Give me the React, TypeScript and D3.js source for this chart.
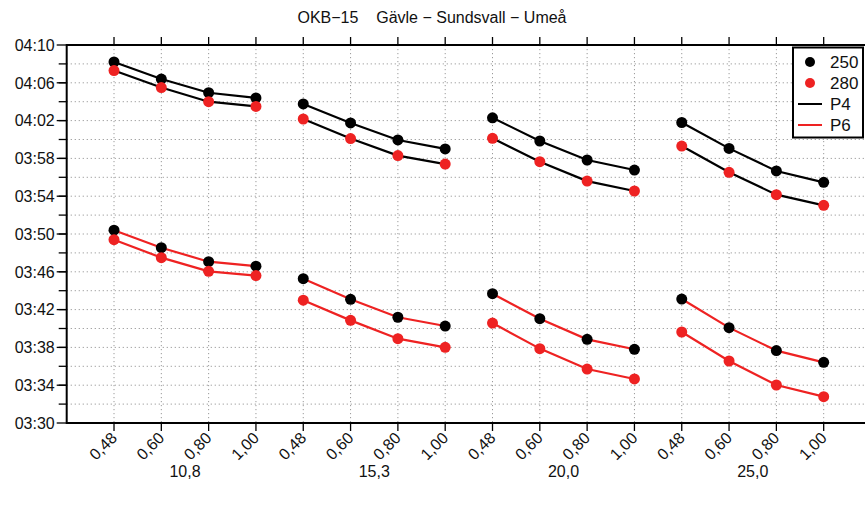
import React from "react";
import * as d3 from "d3";

const title = "OKB\u221215    G\u00e4vle \u2212 Sundsvall \u2212 Ume\u00e5";
const groups = ["10,8", "15,3", "20,0", "25,0"];
const subLabels = ["0,48", "0,60", "0,80", "1,00"];

// times in seconds (e.g. 248.2 = 04:08.2)
const p4_250 = [248.2, 246.4, 244.95, 244.4, 243.76, 241.75, 239.95, 239.0, 242.3, 239.84, 237.83, 236.77, 241.8, 239.06, 236.67, 235.47];
const p4_280 = [247.3, 245.5, 244.0, 243.5, 242.17, 240.1, 238.3, 237.4, 240.13, 237.65, 235.6, 234.55, 239.31, 236.53, 234.16, 233.03];
const p6_250 = [230.4, 228.55, 227.07, 226.6, 225.27, 223.09, 221.19, 220.26, 223.68, 221.04, 218.85, 217.8, 223.12, 220.09, 217.66, 216.42];
const p6_280 = [229.4, 227.5, 226.05, 225.6, 223.0, 220.86, 218.92, 218.01, 220.58, 217.87, 215.71, 214.66, 219.63, 216.56, 214.02, 212.79];

const yMajor = [210, 214, 218, 222, 226, 230, 234, 238, 242, 246, 250];
const yGrid = d3.range(212, 250, 2);

const W = 865, H = 506;
const FONT = "'Liberation Sans', Arial, sans-serif";

function fmt(t: number) {
  const m = Math.floor(t / 60);
  const s = Math.round(t - m * 60);
  return `${String(m).padStart(2, "0")}:${String(s).padStart(2, "0")}`;
}

export default function App() {
  const x = d3.scaleLinear().domain([0, 17]).range([66.7, 871]);
  const y = d3.scaleLinear().domain([210, 250]).range([423, 45]);
  const positions = d3.range(1, 17);
  const line = d3.line<[number, number]>().x((d) => x(d[0])).y((d) => y(d[1]));

  const series = [
    { vals: p4_250, dot: "#000", line: "#000" },
    { vals: p4_280, dot: "#ee2222", line: "#000" },
    { vals: p6_250, dot: "#000", line: "#ee2222" },
    { vals: p6_280, dot: "#ee2222", line: "#ee2222" },
  ];

  const x0 = x(0), x1 = x(17);

  return (
    <svg width={W} height={H} style={{ position: "absolute", left: 0, top: 0, background: "#fff" }} fontFamily={FONT}>
      <rect x={0} y={0} width={W} height={H} fill="#fff" />
      {/* grid */}
      {yGrid.map((t) => (
        <line key={"hg" + t} x1={x0} x2={x1} y1={y(t)} y2={y(t)} stroke="#9a9a9a" strokeWidth={1} strokeDasharray="1.2,2.8" />
      ))}
      {positions.map((p) => (
        <line key={"vg" + p} x1={x(p)} x2={x(p)} y1={y(250)} y2={y(210)} stroke="#9a9a9a" strokeWidth={1} strokeDasharray="1.2,2.8" />
      ))}
      {/* lines */}
      {series.map((s, si) =>
        groups.map((g, gi) => {
          const pts: [number, number][] = [0, 1, 2, 3].map((k) => [gi * 4 + k + 1, s.vals[gi * 4 + k]]);
          return <path key={`l${si}-${gi}`} d={line(pts) || ""} fill="none" stroke={s.line} strokeWidth={2.2} />;
        })
      )}
      {/* dots: black first, red on top */}
      {[0, 2, 1, 3].map((si) =>
        series[si].vals.map((v, i) => (
          <circle key={`d${si}-${i}`} cx={x(i + 1)} cy={y(v)} r={5.5} fill={series[si].dot} />
        ))
      )}
      {/* axes */}
      <line x1={x0} x2={x1} y1={y(250)} y2={y(250)} stroke="#000" strokeWidth={2} />
      <line x1={x0} x2={x1} y1={y(210)} y2={y(210)} stroke="#000" strokeWidth={2} />
      <line x1={x0} x2={x0} y1={y(250) - 1} y2={y(210) + 1} stroke="#000" strokeWidth={2} />
      {positions.map((p) => (
        <g key={"xt" + p}>
          <line x1={x(p)} x2={x(p)} y1={y(250)} y2={y(250) - 8} stroke="#000" strokeWidth={1.3} />
          <line x1={x(p)} x2={x(p)} y1={y(210)} y2={y(210) + 8} stroke="#000" strokeWidth={1.3} />
          <text
            transform={`translate(${x(p) + 4},${y(210) + 16}) rotate(-45)`}
            textAnchor="end"
            fontSize={16}
            fill="#111"
          >
            {subLabels[(p - 1) % 4]}
          </text>
        </g>
      ))}
      {groups.map((g, gi) => (
        <text key={"gl" + g} x={(x(gi * 4 + 1) + x(gi * 4 + 4)) / 2} y={477} textAnchor="middle" fontSize={16} fill="#111">
          {g}
        </text>
      ))}
      {yGrid.map((t) => (
        <line key={"ym" + t} x1={x0 - 8} x2={x0} y1={y(t)} y2={y(t)} stroke="#000" strokeWidth={1.3} />
      ))}
      {yMajor.map((t) => (
        <g key={"yM" + t}>
          <line x1={x0 - 10} x2={x0} y1={y(t)} y2={y(t)} stroke="#000" strokeWidth={1.3} />
          <text x={x0 - 12} y={y(t)} dy="0.36em" textAnchor="end" fontSize={16} fill="#111">
            {fmt(t)}
          </text>
        </g>
      ))}
      {/* title */}
      <text x={432} y={23} textAnchor="middle" fontSize={16} fill="#111" style={{ whiteSpace: "pre" }}>
        {title}
      </text>
      {/* legend */}
      <g>
        <rect x={793} y={47.5} width={70} height={90} fill="#fff" stroke="#000" strokeWidth={2} />
        <circle cx={810} cy={62} r={5} fill="#000" />
        <circle cx={810} cy={83} r={5} fill="#ee2222" />
        <line x1={798} x2={822} y1={104} y2={104} stroke="#000" strokeWidth={2} />
        <line x1={798} x2={822} y1={125} y2={125} stroke="#ee2222" strokeWidth={2} />
        {["250", "280", "P4", "P6"].map((t, i) => (
          <text key={t} x={830} y={62 + i * 21} dy="0.36em" fontSize={17} fill="#111">
            {t}
          </text>
        ))}
      </g>
    </svg>
  );
}
